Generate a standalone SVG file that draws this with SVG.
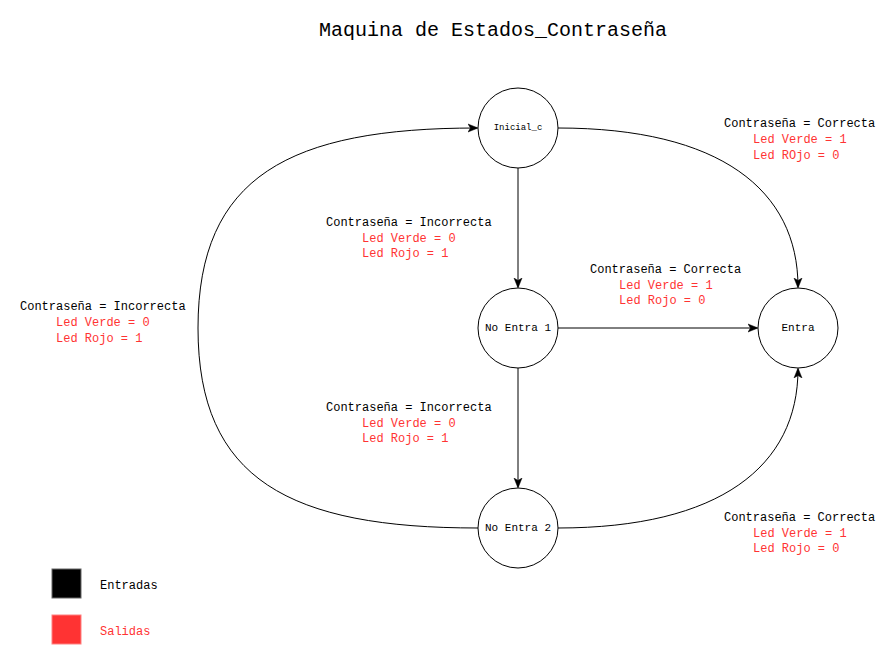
<svg xmlns="http://www.w3.org/2000/svg" width="894" height="648" viewBox="0 0 894 648">
<style>
.n{fill:#fff;stroke:#000;stroke-width:1}
.e{fill:none;stroke:#000;stroke-width:1}
.t{font-family:"Liberation Mono","Courier New",monospace;font-size:12px;fill:#000}
.r{fill:#FF3333}
.nl{font-family:"Liberation Mono","Courier New",monospace;font-size:11px;text-anchor:middle;dominant-baseline:central}
</style>
<defs>
<marker id="a" viewBox="0 0 10 10" refX="9" refY="5" markerWidth="10" markerHeight="10" markerUnits="userSpaceOnUse" orient="auto">
<path d="M0,1 L10,5 L0,9 L2.5,5 Z" fill="#000" stroke="#000" stroke-width="0.5"/>
</marker>
</defs>
<rect width="894" height="648" fill="#fff"/>
<text x="493" y="36" text-anchor="middle" style="font-family:'Liberation Mono','Courier New',monospace;font-size:20px">Maquina de Estados_Contraseña</text>

<g id="edges">
<path class="e" d="M518,168 L518,287" marker-end="url(#a)"/>
<path class="e" d="M558,128 C720,128 798,190 798,287" marker-end="url(#a)"/>
<path class="e" d="M558,328 L757,328" marker-end="url(#a)"/>
<path class="e" d="M518,368 L518,487" marker-end="url(#a)"/>
<path class="e" d="M558,528 C720,528 798,466 798,369" marker-end="url(#a)"/>
<path class="e" d="M478,528 C290,528 198,480 198,328 C198,176 290,128 477,128" marker-end="url(#a)"/>
</g>

<g id="n-inicial"><circle class="n" cx="518" cy="128" r="40"/><text class="nl" x="518" y="128" style="font-size:9px">Inicial_c</text></g>
<g id="n-noentra1"><circle class="n" cx="518" cy="328" r="40"/><text class="nl" x="518" y="328">No Entra 1</text></g>
<g id="n-entra"><circle class="n" cx="798" cy="328" r="40"/><text class="nl" x="798" y="328">Entra</text></g>
<g id="n-noentra2"><circle class="n" cx="518" cy="528" r="40"/><text class="nl" x="518" y="528">No Entra 2</text></g>

<g id="labels">
<text class="t" x="724" y="127">Contraseña = Correcta</text>
<text class="t r" x="753" y="143">Led Verde = 1</text>
<text class="t r" x="753" y="159">Led ROjo = 0</text>

<text class="t" x="326" y="226">Contraseña = Incorrecta</text>
<text class="t r" x="362" y="242">Led Verde = 0</text>
<text class="t r" x="362" y="257">Led Rojo = 1</text>

<text class="t" x="590" y="273">Contraseña = Correcta</text>
<text class="t r" x="619" y="289">Led Verde = 1</text>
<text class="t r" x="619" y="304">Led Rojo = 0</text>

<text class="t" x="20" y="310">Contraseña = Incorrecta</text>
<text class="t r" x="56" y="326">Led Verde = 0</text>
<text class="t r" x="56" y="342">Led Rojo = 1</text>

<text class="t" x="326" y="411">Contraseña = Incorrecta</text>
<text class="t r" x="362" y="427">Led Verde = 0</text>
<text class="t r" x="362" y="442">Led Rojo = 1</text>

<text class="t" x="724" y="521">Contraseña = Correcta</text>
<text class="t r" x="753" y="537">Led Verde = 1</text>
<text class="t r" x="753" y="552">Led Rojo = 0</text>
</g>

<g id="legend">
<rect x="52" y="569" width="29" height="29" fill="#000" stroke="#666"/>
<text class="t" x="100" y="589">Entradas</text>
<rect x="52" y="615" width="29" height="29" fill="#FF3333" stroke="#FF8080"/>
<text class="t r" x="100" y="635">Salidas</text>
</g>
</svg>
